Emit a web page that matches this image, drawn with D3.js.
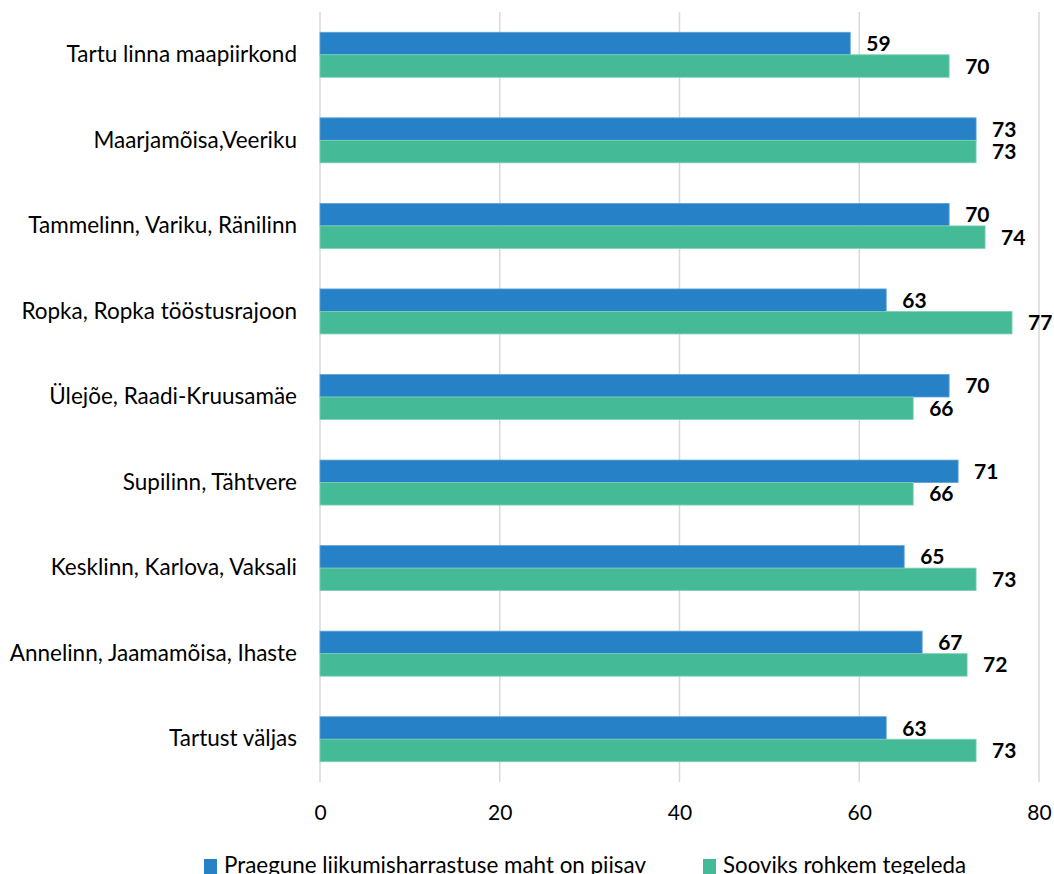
<!DOCTYPE html>
<html><head><meta charset="utf-8">
<script src="https://cdn.jsdelivr.net/npm/d3@7"></script>
<style>body{margin:0;background:#fff;} svg{display:block;}</style>
</head><body>
<svg id="c" width="1054" height="874"></svg>
<script>
const categories = ["Tartu linna maapiirkond","Maarjamõisa,Veeriku","Tammelinn, Variku, Ränilinn","Ropka, Ropka tööstusrajoon","Ülejõe, Raadi-Kruusamäe","Supilinn, Tähtvere","Kesklinn, Karlova, Vaksali","Annelinn, Jaamamõisa, Ihaste","Tartust väljas"];
const seriesNames = ["Praegune liikumisharrastuse maht on piisav","Sooviks rohkem tegeleda"];
const current = [59,73,70,63,70,71,65,67,63];
const wantMore = [70,73,74,77,66,66,73,72,73];
const xTicks = [0,20,40,60,80];
const colors = ["#2781C6","#44BB96"];
const font = "Lato, 'Open Sans', sans-serif";

const svg = d3.select("#c");
const x = d3.scaleLinear().domain([0,80]).range([320,1039]);
const y = d3.scaleBand().domain(categories).range([12,782]).padding(0);
const inner = d3.scaleBand().domain([0,1]).range([0,45]);

// gridlines
svg.append("g").selectAll("line").data(xTicks).join("line")
  .attr("x1",d=>x(d)).attr("x2",d=>x(d)).attr("y1",12).attr("y2",782)
  .attr("stroke","#d9d9d9").attr("stroke-width",1.5);

// x axis labels
const xa = svg.append("g").attr("transform","translate(0,782)")
  .call(d3.axisBottom(x).tickValues(xTicks).tickSize(0).tickPadding(23));
xa.select(".domain").remove();
xa.selectAll("text").attr("font-family",font).attr("font-size",21).attr("fill","#000");

// category labels
const ya = svg.append("g").attr("transform","translate(320,0)")
  .call(d3.axisLeft(y).tickSize(0).tickPadding(23));
ya.select(".domain").remove();
ya.selectAll("text").attr("font-family",font).attr("font-size",22.5).attr("fill","#000");

const series = [current, wantMore];
series.forEach((vals, s) => {
  const g = svg.append("g");
  const off = d => y(d) + (y.bandwidth()-45)/2 + inner(s);
  g.selectAll("rect").data(categories).join("rect")
    .attr("x",x(0)).attr("y",d=>off(d))
    .attr("width",(d,i)=>x(vals[i])-x(0)).attr("height",inner.bandwidth())
    .attr("fill",colors[s]).attr("stroke",s===0?"#5FA3D8":"#7FD0B4").attr("stroke-width",0.8);
  g.selectAll("text").data(categories).join("text")
    .attr("x",(d,i)=>x(vals[i])+16).attr("y",d=>off(d)+inner.bandwidth()/2)
    .attr("dy","0.36em")
    .attr("font-family",font).attr("font-size",21).attr("font-weight","bold").attr("fill","#000")
    .text((d,i)=>vals[i]);
});

// legend
const leg = svg.append("g");
const lx = [204, 703];
const lw = [422, 243];
seriesNames.forEach((n,i)=>{
  leg.append("rect").attr("x",lx[i]).attr("y",859).attr("width",13).attr("height",15).attr("fill",colors[i]);
  leg.append("text").attr("x",lx[i]+20).attr("y",873).attr("font-family",font).attr("font-size",23)
    .attr("textLength",lw[i]).attr("lengthAdjust","spacingAndGlyphs").attr("fill","#000").text(n);
});
</script>
</body></html>
